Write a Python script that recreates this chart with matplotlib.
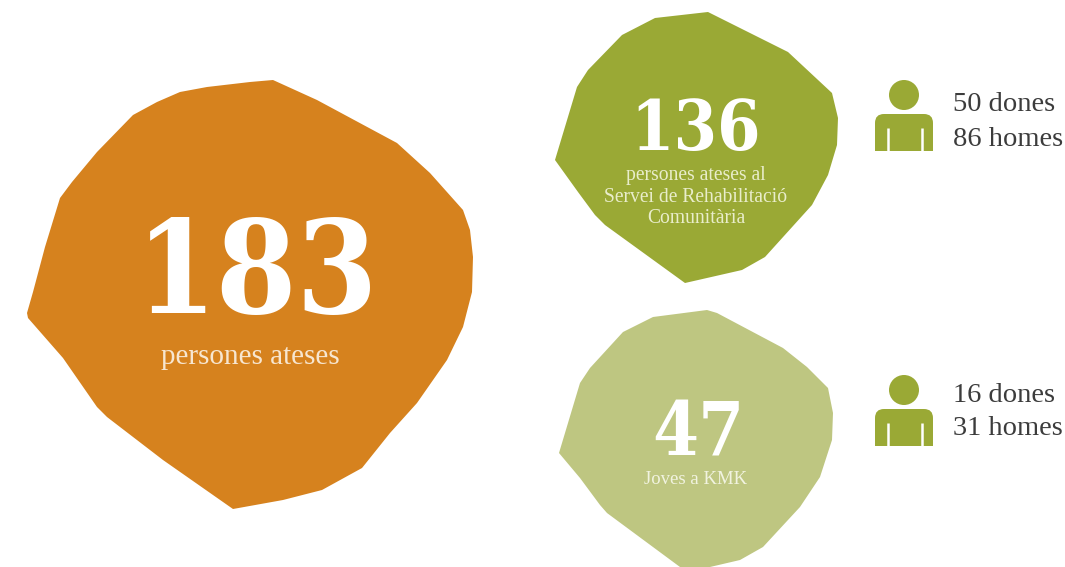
"""
Infographic: persons attended, three blobs with counts and gender split.
Axes use image pixels so the outlines can be read straight off the picture.
"""
import matplotlib
matplotlib.use("Agg")
import matplotlib.pyplot as plt
from matplotlib.patches import Circle, Polygon, FancyBboxPatch, Rectangle

ORANGE = "#d6821e"
GREEN = "#9aa935"
LIGHT_GREEN = "#bec681"
SLAB = "DejaVu Serif"
LIGHT = "Liberation Serif"

# blob outlines
blob_total = [(27, 313), (33, 292), (45, 247), (60, 198), (72, 182), (97, 152), (133, 115),
              (157, 102), (180, 92), (207, 87), (250, 82), (273, 80), (317, 100), (397, 143),
              (430, 173), (463, 210), (470, 230), (473, 257), (472, 292), (463, 327),
              (447, 360), (417, 403), (390, 433), (362, 468), (322, 490), (283, 500),
              (233, 509), (163, 460), (107, 417), (97, 407), (63, 358), (28, 318)]
blob_rehab = [(555, 160), (577, 87), (588, 70), (622, 35), (655, 18), (708, 12), (788, 52),
              (832, 93), (838, 118), (837, 145), (828, 175), (812, 205), (765, 257),
              (742, 270), (685, 283), (605, 225), (595, 215), (578, 192)]
blob_kmk = [(559, 453), (580, 383), (590, 368), (623, 332), (653, 317), (707, 310), (717, 313),
            (783, 348), (807, 367), (828, 388), (833, 413), (832, 440), (820, 477), (800, 507),
            (763, 547), (740, 560), (710, 567), (680, 567), (607, 513), (600, 505), (580, 478)]

totals = ["183", "136", "47"]
captions = ["persones ateses",
            "persones ateses al\nServei de Rehabilitació\nComunitària",
            "Joves a KMK"]
women = [50, 16]
men = [86, 31]


def draw_person(ax, cx, top):
    ax.add_patch(Circle((cx, top + 15), 15, fc=GREEN, ec="none"))
    ax.add_patch(FancyBboxPatch((cx - 29, top + 34), 58, 37,
                                boxstyle="round,pad=0,rounding_size=9",
                                fc=GREEN, ec="none"))
    ax.add_patch(Rectangle((cx - 29, top + 50), 58, 21, fc=GREEN, ec="none"))
    # the little arm gaps
    for dx in (-16, 18):
        ax.plot([cx + dx, cx + dx], [top + 48, top + 71], color="white", lw=1.8,
                solid_capstyle="butt")


fig = plt.figure(figsize=(10.65, 5.67), dpi=100)
ax = fig.add_axes([0, 0, 1, 1])
ax.set_xlim(0, 1065)
ax.set_ylim(567, 0)
ax.axis("off")

ax.add_patch(Polygon(blob_total, closed=True, fc=ORANGE, ec="none"))
ax.add_patch(Polygon(blob_rehab, closed=True, fc=GREEN, ec="none"))
ax.add_patch(Polygon(blob_kmk, closed=True, fc=LIGHT_GREEN, ec="none"))

ax.text(257, 313, totals[0], family=SLAB, stretch="condensed", weight="bold", fontsize=93,
        color="white", ha="center", va="baseline")
ax.text(250, 364, captions[0], family=LIGHT, fontsize=21, color="#f7e6d0",
        ha="center", va="baseline")

ax.text(696, 150, totals[1], family=SLAB, stretch="condensed", weight="bold", fontsize=50,
        color="white", ha="center", va="baseline")
ax.text(696, 197, captions[1], family=LIGHT, fontsize=14.1, color="#e9edcb",
        ha="center", va="center", linespacing=1.2)

ax.text(698, 456, totals[2], family=SLAB, stretch="condensed", weight="bold", fontsize=53,
        color="white", ha="center", va="baseline")
ax.text(696, 484, captions[2], family=LIGHT, fontsize=13.5, color="#f1f3e0",
        ha="center", va="baseline")

draw_person(ax, 904, 80)
draw_person(ax, 904, 375)

for y_w, y_m, w, m in zip((111, 402), (146, 435), women, men):
    ax.text(953, y_w, f"{w} dones", family=LIGHT, fontsize=20.5, color="#3c3c3c", va="baseline")
    ax.text(953, y_m, f"{m} homes", family=LIGHT, fontsize=20.5, color="#3c3c3c", va="baseline")

fig.savefig("out.png", dpi=100)
